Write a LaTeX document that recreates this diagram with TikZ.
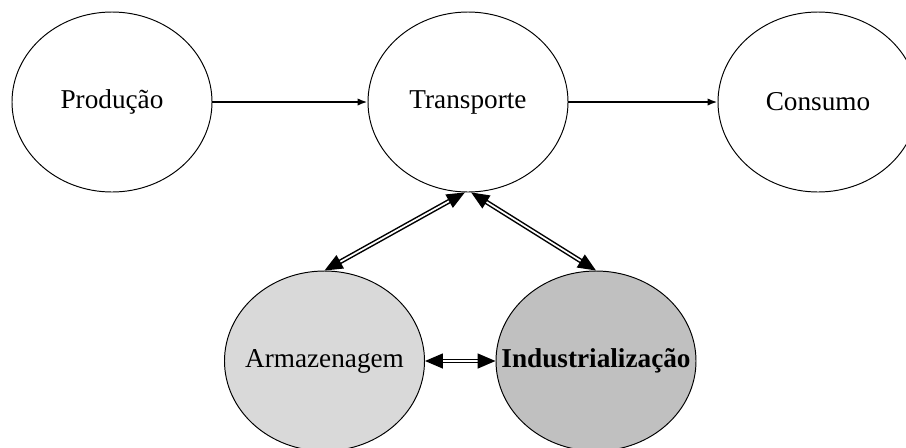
\documentclass[tikz,border=0pt]{standalone}
\usepackage{fontspec}
\setmainfont{Liberation Serif}
\usetikzlibrary{shapes.geometric,arrows.meta,positioning}

\definecolor{cinzaClaro}{RGB}{217,217,217}
\definecolor{cinzaEscuro}{RGB}{192,192,192}

\tikzstyle{etapa} = [ellipse, minimum width=4cm, minimum height=3.6cm, inner sep=0pt, text centered, draw=black, line width=0.55pt, fill=white, font=\fontsize{15.5}{18}\selectfont]
\tikzstyle{seta} = [line width=1.2pt,-{Latex[length=0.2cm,width=0.15cm]}]
\tikzstyle{setaDupla} = [double, double distance=0.035cm, line width=0.03cm, {Triangle[length=0.36cm,width=0.3cm]}-{Triangle[length=0.36cm,width=0.3cm]}]

\begin{document}
\begin{tikzpicture}[node distance=7cm]
    \useasboundingbox (0,0) rectangle (18.12,-8.94);
    \node (producao)[etapa] at (2.24,-2.04) {Produção};
    \node (transporte)[etapa, right of=producao, xshift=0.12cm] {Transporte};
    \node (consumo)[etapa, right of=transporte] {Consumo};
    \node (armazenagem)[etapa, below of=transporte, node distance=5.18cm, xshift=-2.87cm, fill=cinzaClaro] {\makebox[0pt]{Armazenagem}};
    \node (industrializacao)[etapa, right of=armazenagem, node distance=5.43cm, fill=cinzaEscuro] {\makebox[0pt]{\textbf{Industrialização}}};

    \draw [seta] (producao) -- (transporte);
    \draw [seta] (transporte) -- (consumo);
    \draw [setaDupla] (transporte.-92) -- (armazenagem.north);
    \draw [setaDupla] (transporte.-88) -- (industrializacao.north);
    \draw [setaDupla] (armazenagem) -- (industrializacao);

\end{tikzpicture}
\end{document}
